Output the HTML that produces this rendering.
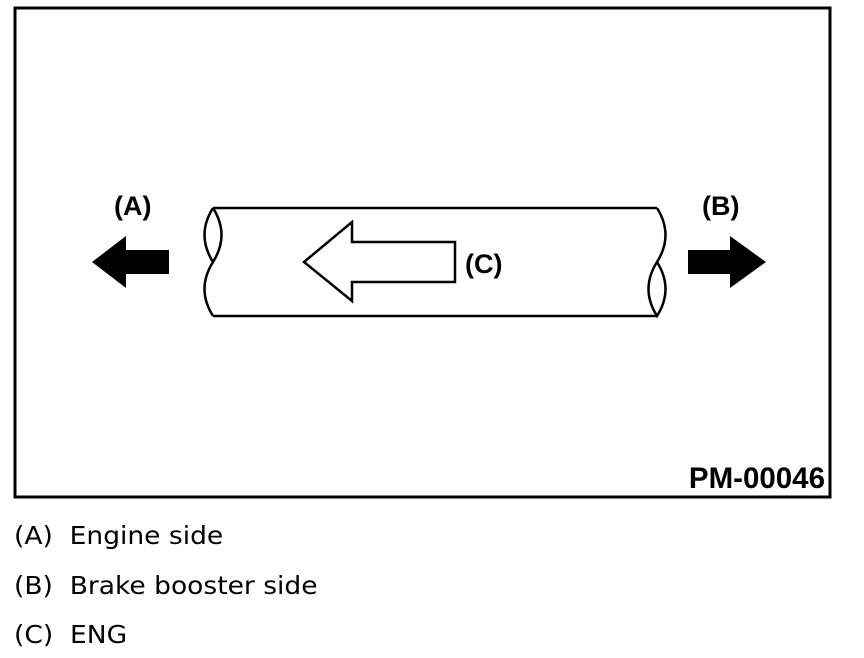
<!DOCTYPE html>
<html><head><style>
body{margin:0;background:#fff;width:864px;height:658px;overflow:hidden;position:relative;font-family:"DejaVu Sans",sans-serif}
.l{position:absolute;left:14px;font-size:25px;color:#000;white-space:pre;transform:scaleX(1.06);transform-origin:0 0}
</style></head><body>
<svg width="864" height="658" style="position:absolute;left:0;top:0">
<rect x="15" y="8" width="815" height="489" fill="none" stroke="#000" stroke-width="3"/>
<g fill="none" stroke="#000" stroke-width="2.5">
<line x1="213" y1="208" x2="657" y2="208"/>
<line x1="213" y1="316" x2="657" y2="316"/>
<path d="M213 208 Q196 235 213 262 Q230 235 213 208"/>
<path d="M213 262 Q196 289 213 316"/>
<path d="M657 208 Q674 235 657 262"/>
<path d="M657 262 Q640 289 657 316 Q674 289 657 262"/>
<path d="M304 262 L352 222 L352 242 L455 242 L455 282 L352 282 L352 301 Z"/>
</g>
<path d="M92 262 L126 236 L126 250 L169 250 L169 274 L126 274 L126 288 Z" fill="#000"/>
<path d="M766 262 L730 236 L730 250 L688 250 L688 274 L730 274 L730 288 Z" fill="#000"/>
<g font-family="Liberation Sans, sans-serif" font-weight="bold" font-size="27" fill="#000">
<text x="114" y="215">(A)</text>
<text x="702" y="215">(B)</text>
<text x="465" y="273">(C)</text>
<text x="825" y="488" text-anchor="end" font-size="29.5">PM-00046</text>
</g>
</svg>
<div class="l" style="top:521px">(A)  Engine side</div>
<div class="l" style="top:571px">(B)  Brake booster side</div>
<div class="l" style="top:620px">(C)  ENG</div>
</body></html>
